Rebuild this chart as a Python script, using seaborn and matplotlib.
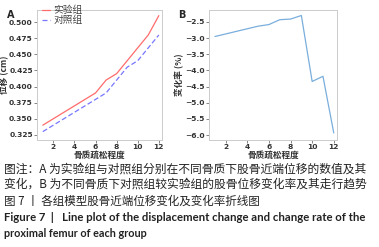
import matplotlib
matplotlib.use("Agg")
import matplotlib.pyplot as plt
import seaborn as sns
import pandas as pd

x_levels = [1, 2, 3, 4, 5, 6, 7, 8, 9, 10, 11, 12]
exp_group = [0.34, 0.35, 0.36, 0.37, 0.38, 0.39, 0.41, 0.42, 0.44, 0.46, 0.48, 0.51]
ctrl_group = [0.33, 0.34, 0.35, 0.36, 0.37, 0.38, 0.39, 0.41, 0.43, 0.44, 0.46, 0.48]
change_rate = [-2.95, -2.87, -2.79, -2.71, -2.63, -2.58, -2.43, -2.41, -2.30, -4.34, -4.18, -5.93]
series_names = ["实验组", "对照组"]
a_yticks = [0.325, 0.350, 0.375, 0.400, 0.425, 0.450, 0.475, 0.500]
b_yticks = [-6.0, -5.5, -5.0, -4.5, -4.0, -3.5, -3.0, -2.5]
x_ticks = [2, 4, 6, 8, 10, 12]
x_title = "骨质疏松程度"

sns.set_theme(style="white")
plt.rcParams['font.family'] = ['Noto Sans CJK SC', 'DejaVu Sans']
plt.rcParams['axes.unicode_minus'] = True

W, H = 379, 247
fig = plt.figure(figsize=(W / 100, H / 100), dpi=100)
axA = fig.add_axes([37 / W, 1 - 140 / H, 125 / W, 130 / H])
axB = fig.add_axes([209 / W, 1 - 140 / H, 128 / W, 130 / H])

dfA = pd.DataFrame({"x": x_levels * 2,
                    "y": exp_group + ctrl_group,
                    "g": [series_names[0]] * 12 + [series_names[1]] * 12})
sns.lineplot(data=dfA, x="x", y="y", hue="g", style="g",
             palette=["#ff6b6b", "#7777ff"], dashes=[(None, None), (4, 2)],
             linewidth=0.9, ax=axA, legend=True)
dfB = pd.DataFrame({"x": x_levels, "y": change_rate})
sns.lineplot(data=dfB, x="x", y="y", color="#7aaedc", linewidth=0.9, ax=axB)

tick_font = dict(fontsize=5.4, fontweight="bold", family=["DejaVu Sans"], color="#333333")
for ax in (axA, axB):
    for sp in ax.spines.values():
        sp.set_color("#cccccc")
        sp.set_linewidth(0.7)
    ax.set_xticks(x_ticks)
    ax.set_xlim(0.45, 12.3)
    ax.tick_params(axis="both", which="both", length=2, width=0.5, color="#555555",
                   left=True, bottom=True, pad=1)
    ax.set_xlabel("")
    ax.text(0.5, -(155 - 140) / 130, x_title, transform=ax.transAxes, fontsize=6.2,
            fontweight="bold", color="#333333", ha="center", va="center")

axA.set_yticks(a_yticks)
axA.set_yticklabels([f"{v:.3f}" for v in a_yticks], **tick_font)
axA.set_xticklabels([str(v) for v in x_ticks], **tick_font)
axA.set_ylim(0.317, 0.5187)
axA.set_ylabel("位移 (cm)", fontsize=6.2, fontweight="bold", color="#333333")
axA.yaxis.set_label_coords((9 - 37) / 125, 0.5)

axB.set_yticks(b_yticks)
axB.set_yticklabels([f"{v:.1f}".replace("-", "\u2212") for v in b_yticks], **tick_font)
axB.set_xticklabels([str(v) for v in x_ticks], **tick_font)
axB.set_ylim(-6.15, -2.13)
axB.set_ylabel("变化率 (%)", fontsize=6.2, fontweight="bold", color="#333333")
axB.yaxis.set_label_coords((184 - 209) / 128, 0.5)

handles, labels = axA.get_legend_handles_labels()
leg = axA.legend(handles, labels, loc="upper left", bbox_to_anchor=(-0.01, 1.08),
                 frameon=False, fontsize=7, handlelength=0.9, handletextpad=0.3,
                 labelspacing=0.0, borderaxespad=0.2, title=None)
for t in leg.get_texts():
    t.set_color("#444444")

fig.text(7 / W, 1 - 15 / H, "A", fontsize=7, fontweight="bold", va="center", ha="left",
         family=["DejaVu Sans"])
fig.text(178 / W, 1 - 15 / H, "B", fontsize=7, fontweight="bold", va="center", ha="left",
         family=["DejaVu Sans"])

cap_color = "#222222"
# (text, y-centre px, weight, target right edge px)
caption_lines = [
    ("图注：A 为实验组与对照组分别在不同骨质下股骨近端位移的数值及其", 169, "normal", 368),
    ("变化，B 为不同骨质下对照组较实验组的股骨位移变化率及其走行趋势", 184, "normal", 368),
    ("图 7 丨 各组模型股骨近端位移变化及变化率折线图", 201, "normal", 261),
    ("Figure 7  |   Line plot of the displacement change and change rate of the", 217, "bold", 368),
    ("proximal femur of each group", 233, "bold", 147),
]
renderer = fig.canvas.get_renderer()
for txt, yy, wt, right in caption_lines:
    fam = ['Noto Sans CJK SC', 'DejaVu Sans'] if wt == "normal" else ['Lato', 'DejaVu Sans']
    t = fig.text(4 / W, 1 - yy / H, txt, fontsize=8, fontweight=wt, color=cap_color,
                 va="center", ha="left", family=fam)
    w = t.get_window_extent(renderer).width
    t.set_fontsize(8 * (right - 4) / w)

fig.savefig("out.png", dpi=100)
